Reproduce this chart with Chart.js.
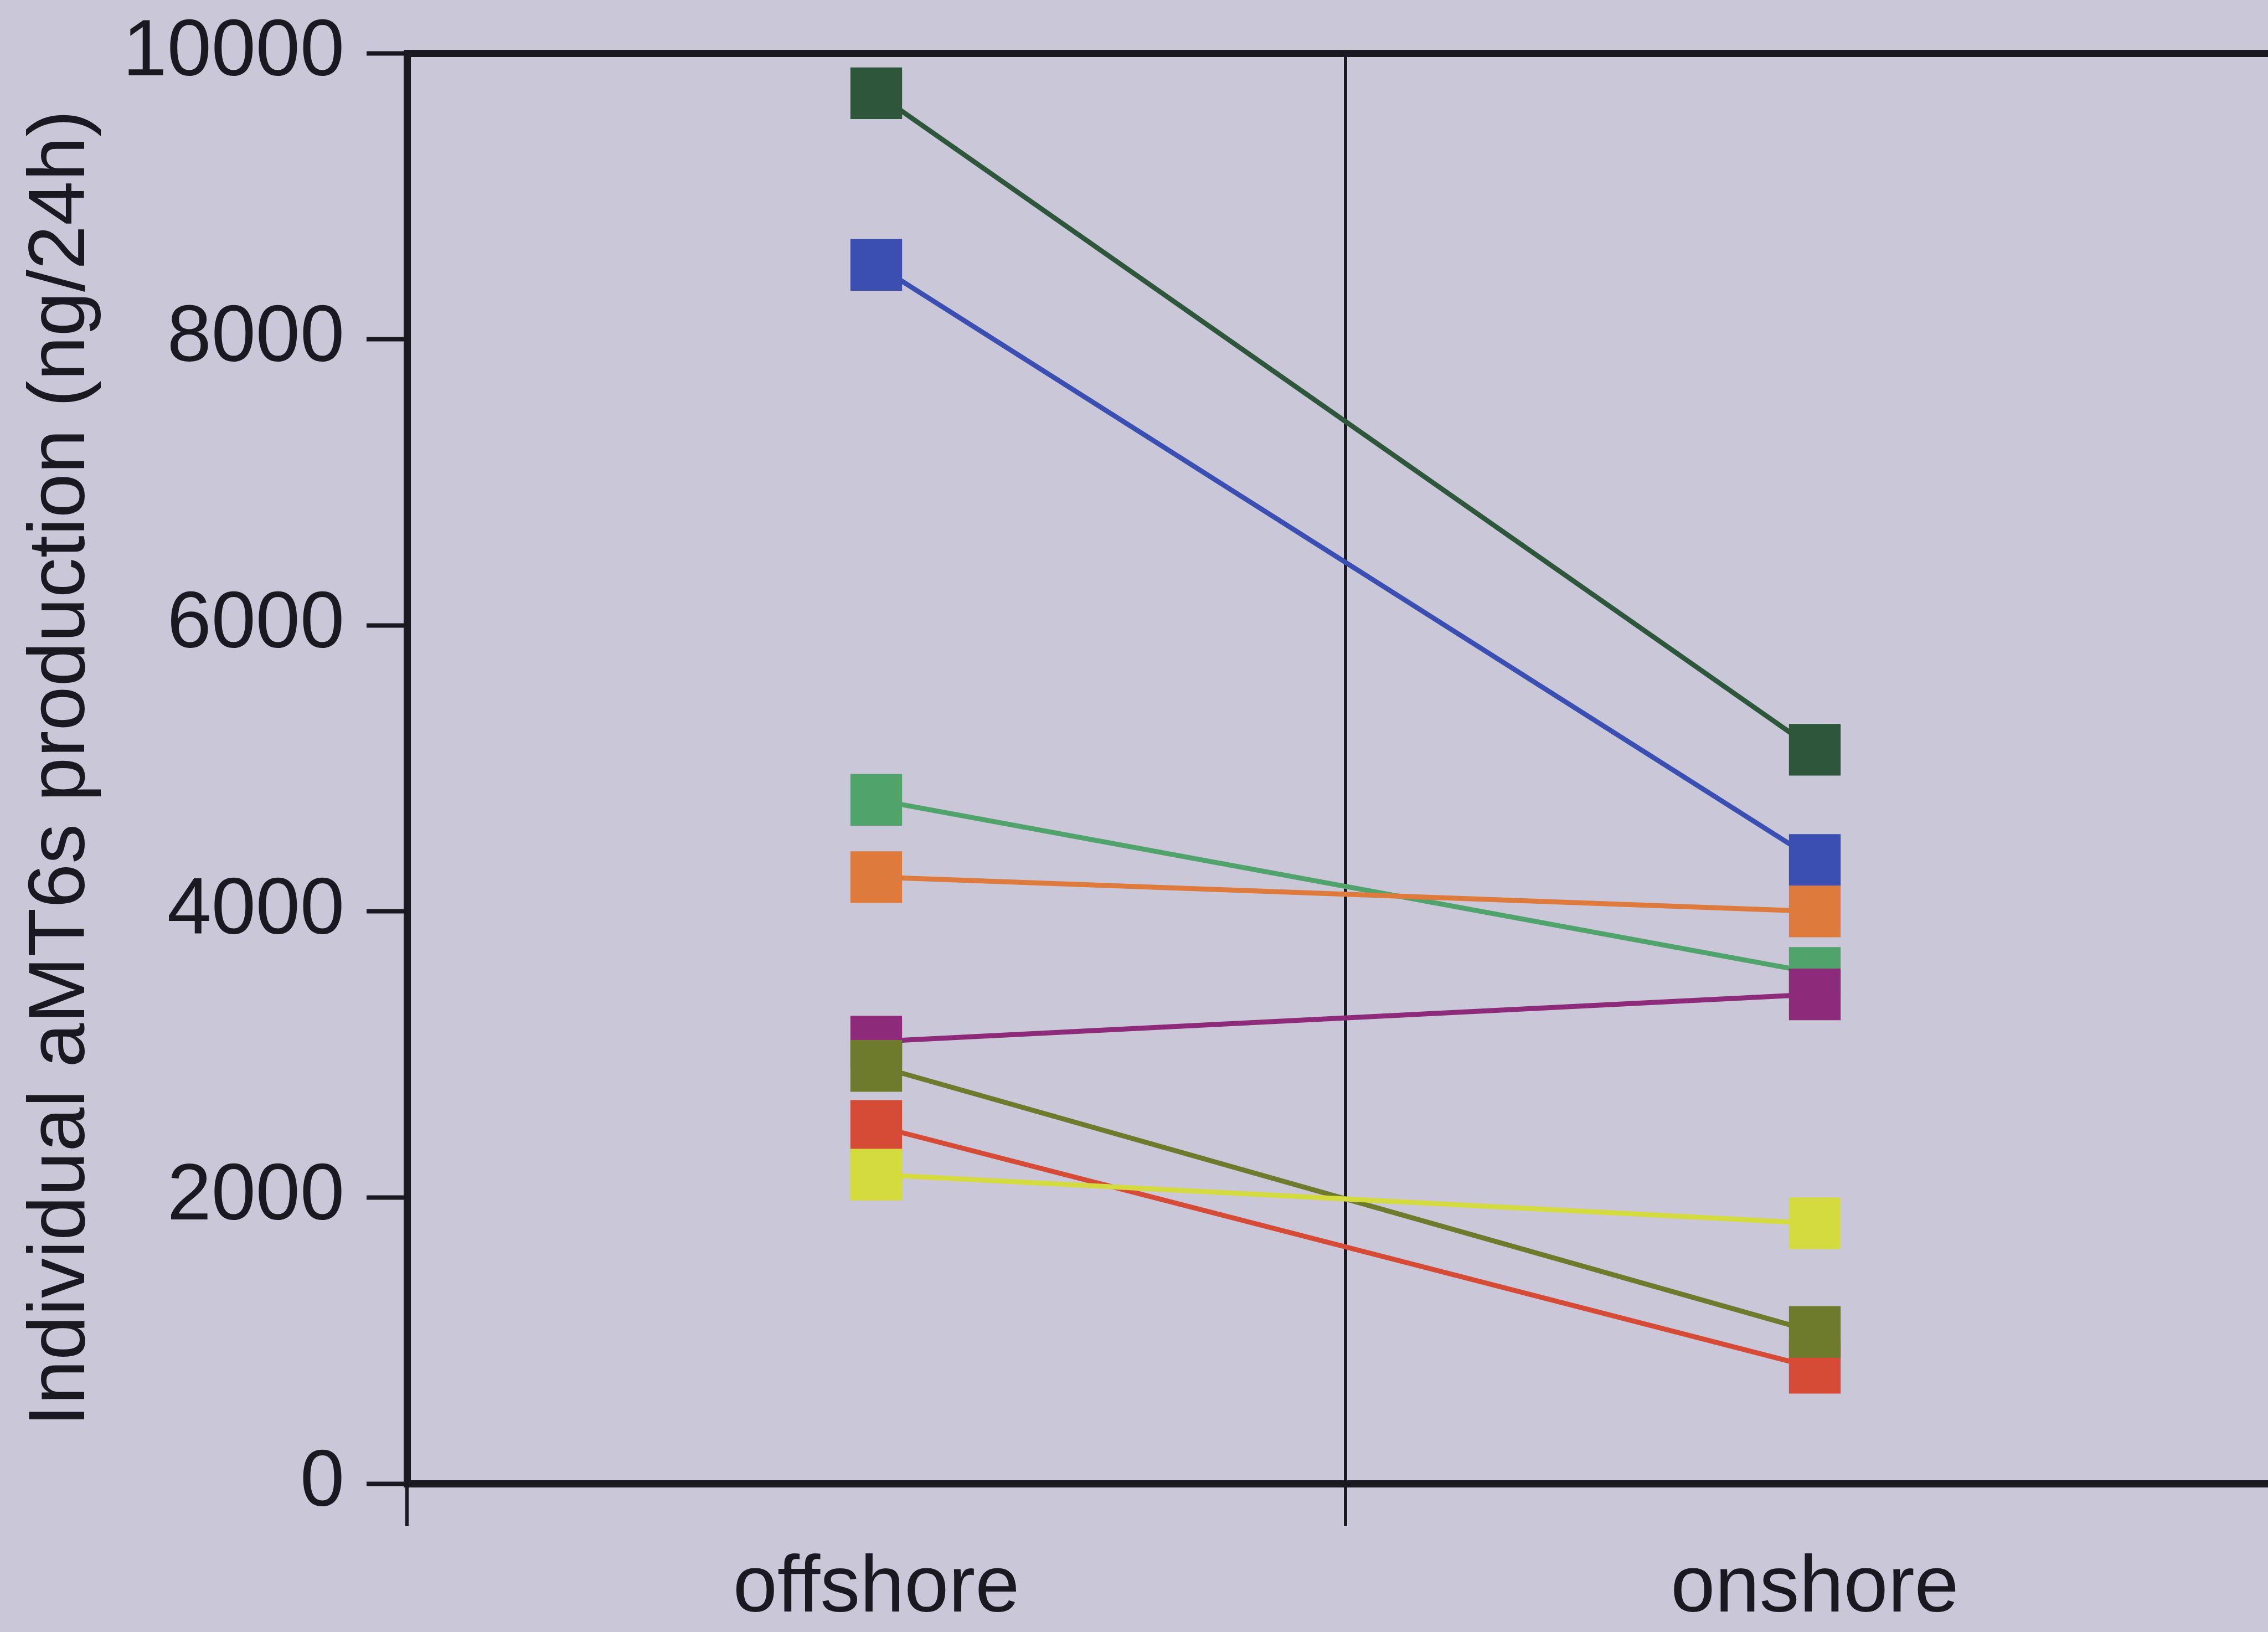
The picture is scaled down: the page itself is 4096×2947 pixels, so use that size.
<!DOCTYPE html>
<html lang="en">
<head>
  <meta charset="UTF-8">
  <title>Individual aMT6s production</title>
  <style>
    html, body {
      margin: 0;
      padding: 0;
      overflow: hidden;
      background: #cac8d8;
    }

    canvas {
      display: block;
    }
  </style>
</head>
<body>
  <canvas id="amtChart" width="4160" height="2947"></canvas>

  <script src="https://cdn.jsdelivr.net/npm/chart.js"></script>
  <script>
    const categories = ['offshore', 'onshore'];
    const yTicks = [0, 2000, 4000, 6000, 8000, 10000];

    // one pair per individual: [offshore, onshore]
    const subject1 = [9720, 5130];
    const subject2 = [4240, 4000];
    const subject3 = [2160, 1820];
    const subject4 = [2920, 1060];
    const subject5 = [3090, 3420];
    const subject6 = [4780, 3570];
    const subject7 = [8520, 4360];
    const subject8 = [2500, 810];

    // first dataset is painted last, so it sits on top
    const series = [subject1, subject2, subject3, subject4, subject5, subject6, subject7, subject8];
    const colours = ['#2e563b', '#de7b3c', '#d3db3e', '#6e7a2c', '#8d2a79', '#4fa36b', '#3b4fb2', '#d64b36'];

    const ink = '#1a1820';
    const clear = 'rgba(0,0,0,0)';
    const font = { family: '"Liberation Sans", Arial, sans-serif', size: 144, lineHeight: 1.2 };

    const datasets = series.map((values, i) => ({
      data: values,
      borderColor: colours[i],
      backgroundColor: colours[i],
      pointBackgroundColor: colours[i],
      pointStyle: 'rect',
      pointRadius: 66,
      pointBorderWidth: 0,
      borderWidth: 9,
      tension: 0
    }));

    const ctx = document.getElementById('amtChart').getContext('2d');
    const amtChart = new Chart(ctx, {
      type: 'line',
      data: { labels: categories, datasets: datasets },
      options: {
        animation: false,
        responsive: false,
        devicePixelRatio: 1,
        layout: {
          // big markers would otherwise shrink the plot area
          autoPadding: false,
          padding: { top: 96, right: 35, left: 0, bottom: 0 }
        },
        plugins: {
          legend: { display: false },
          tooltip: { enabled: false }
        },
        scales: {
          x: {
            type: 'category',
            offset: true,
            grid: {
              offset: true,
              // only the divider between the two groups is drawn across the plot
              color: (c) => c.index === 1 ? ink : clear,
              lineWidth: 6,
              tickColor: ink,
              tickWidth: 6,
              tickLength: 77
            },
            border: { color: ink, width: 13 },
            ticks: { color: ink, padding: 28, font: font },
            afterFit: (scale) => {
              scale.height = 268;
              scale.paddingLeft = 0;
              scale.paddingRight = 0;
            }
          },
          y: {
            min: 0,
            max: 10000,
            afterBuildTicks: (scale) => { scale.ticks = yTicks.map(v => ({ value: v })); },
            grid: {
              // the top tick doubles as the upper frame line
              color: (c) => c.tick && c.tick.value === 10000 ? ink : clear,
              lineWidth: (c) => c.tick && c.tick.value === 10000 ? 13 : 1,
              tickColor: ink,
              tickWidth: 8,
              tickLength: 73
            },
            border: { color: ink, width: 13 },
            ticks: {
              color: ink,
              padding: 40,
              font: font,
              callback: (value) => String(value)
            },
            title: {
              display: true,
              text: 'Individual aMT6s production (ng/24h)',
              color: ink,
              padding: { top: 26, bottom: 0 },
              font: font
            },
            afterFit: (scale) => {
              scale.width = 735;
              scale.paddingTop = 0;
              scale.paddingBottom = 0;
            }
          }
        }
      }
    });
  </script>
</body>
</html>
